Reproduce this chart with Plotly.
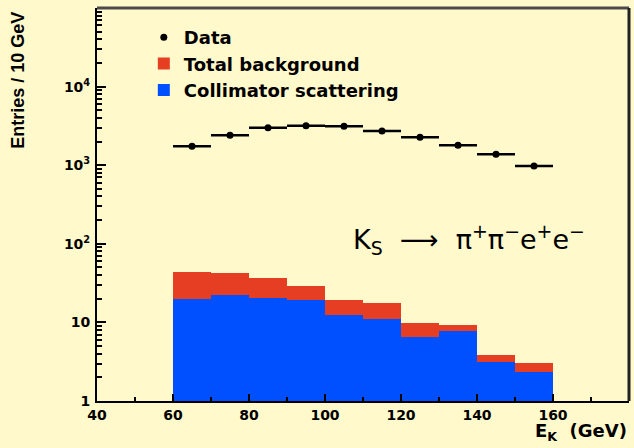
import plotly.graph_objects as go

# Kaon energy bins (GeV), 10 GeV wide
bin_centers = [65, 75, 85, 95, 105, 115, 125, 135, 145, 155]
bin_width = 10

# Observed events per bin
data_counts = [1740, 2400, 3000, 3180, 3120, 2720, 2260, 1790, 1380, 980]

# Background estimates per bin
total_background = [44.0, 42.6, 36.4, 28.8, 19.5, 17.6, 9.8, 9.3, 3.85, 3.05]
collimator_scattering = [19.7, 22.2, 20.5, 19.0, 12.4, 11.1, 6.46, 7.85, 3.18, 2.33]

# Axis ticks
x_ticks = [40, 60, 80, 100, 120, 140, 160, 180]
y_ticks = [1, 10, 100, 1000, 10000]
y_ticktext = ["1", "10", "10<sup>2</sup>", "10<sup>3</sup>", "10<sup>4</sup>"]
y_minor = [m * 10 ** d for d in range(5) for m in range(2, 10)]

BG = "#FFF9CC"
RED = "#E63E22"
BLUE = "#0050FF"
FONT = "Liberation Sans"
BOLD = "DejaVu Sans"

fig = go.Figure()

fig.add_trace(go.Bar(
    x=bin_centers, y=total_background, width=bin_width,
    marker=dict(color=RED, line=dict(width=0)),
    name="Total background", legendrank=2,
))
fig.add_trace(go.Bar(
    x=bin_centers, y=collimator_scattering, width=bin_width,
    marker=dict(color=BLUE, line=dict(width=0)),
    name="Collimator scattering", legendrank=3,
))
fig.add_trace(go.Scatter(
    x=bin_centers, y=data_counts, mode="markers",
    marker=dict(color="black", size=7),
    error_x=dict(type="constant", value=bin_width / 2, color="black",
                 thickness=2.5, width=0),
    name="Data", legendrank=1,
))

fig.update_layout(
    width=634, height=448,
    margin=dict(l=97, r=5, t=8, b=47),
    paper_bgcolor=BG, plot_bgcolor=BG,
    barmode="overlay", bargap=0,
    showlegend=True,
    legend=dict(
        x=0.088, y=0.972, xanchor="left", yanchor="top",
        bgcolor="rgba(0,0,0,0)", traceorder="normal",
        font=dict(family=BOLD, size=18, color="black", weight="bold"),
        tracegroupgap=0,
    ),
    font=dict(family=FONT, color="black"),
)

fig.update_xaxes(
    range=[40, 180], tickvals=x_ticks,
    ticks="inside", ticklen=7, tickwidth=1.5, tickcolor="black",
    minor=dict(ticks="inside", ticklen=4, tickwidth=1.5, tickcolor="black",
               dtick=10, tick0=40),
    showline=True, linecolor="black", linewidth=2,
    showgrid=False, zeroline=False,
    tickfont=dict(family=BOLD, size=14, color="black", weight="bold"),
)
fig.update_yaxes(
    type="log", range=[0, 5],
    tickvals=y_ticks, ticktext=y_ticktext,
    ticks="inside", ticklen=9, tickwidth=1.5, tickcolor="black",
    minor=dict(ticks="inside", ticklen=5, tickwidth=1.5, tickcolor="black",
               tickvals=y_minor),
    showline=True, linecolor="black", linewidth=2,
    showgrid=False, zeroline=False,
    ticklabelstandoff=2,
    tickfont=dict(family=BOLD, size=14, color="black", weight="bold"),
)

# Frame top and right edges
fig.add_shape(type="line", xref="paper", yref="paper", x0=0, x1=1, y0=1, y1=1,
              line=dict(color="#4a4a4a", width=3))
fig.add_shape(type="line", xref="paper", yref="paper", x0=1, x1=1, y0=0, y1=1,
              line=dict(color="#222222", width=3))

# Axis titles
fig.add_annotation(
    text="Entries / 10 GeV", textangle=-90,
    xref="paper", yref="paper", x=-0.148, y=0.995,
    xanchor="center", yanchor="top", showarrow=False,
    font=dict(family=FONT, size=18, color="black", weight="bold"),
)
fig.add_annotation(
    text="E<sub>K</sub>  (GeV)",
    xref="paper", yref="paper", x=1.0, y=-0.08,
    xanchor="right", yanchor="middle", showarrow=False,
    font=dict(family=BOLD, size=18, color="black", weight="bold"),
)

# Decay channel label
fig.add_annotation(
    text="K<sub>S</sub>  ⟶  π<sup>+</sup>π<sup>−</sup>e<sup>+</sup>e<sup>−</sup>",
    xref="paper", yref="paper", x=0.70, y=0.41,
    xanchor="center", yanchor="middle", showarrow=False,
    font=dict(family=BOLD, size=27, color="black"),
)

fig.write_html("out.html")
